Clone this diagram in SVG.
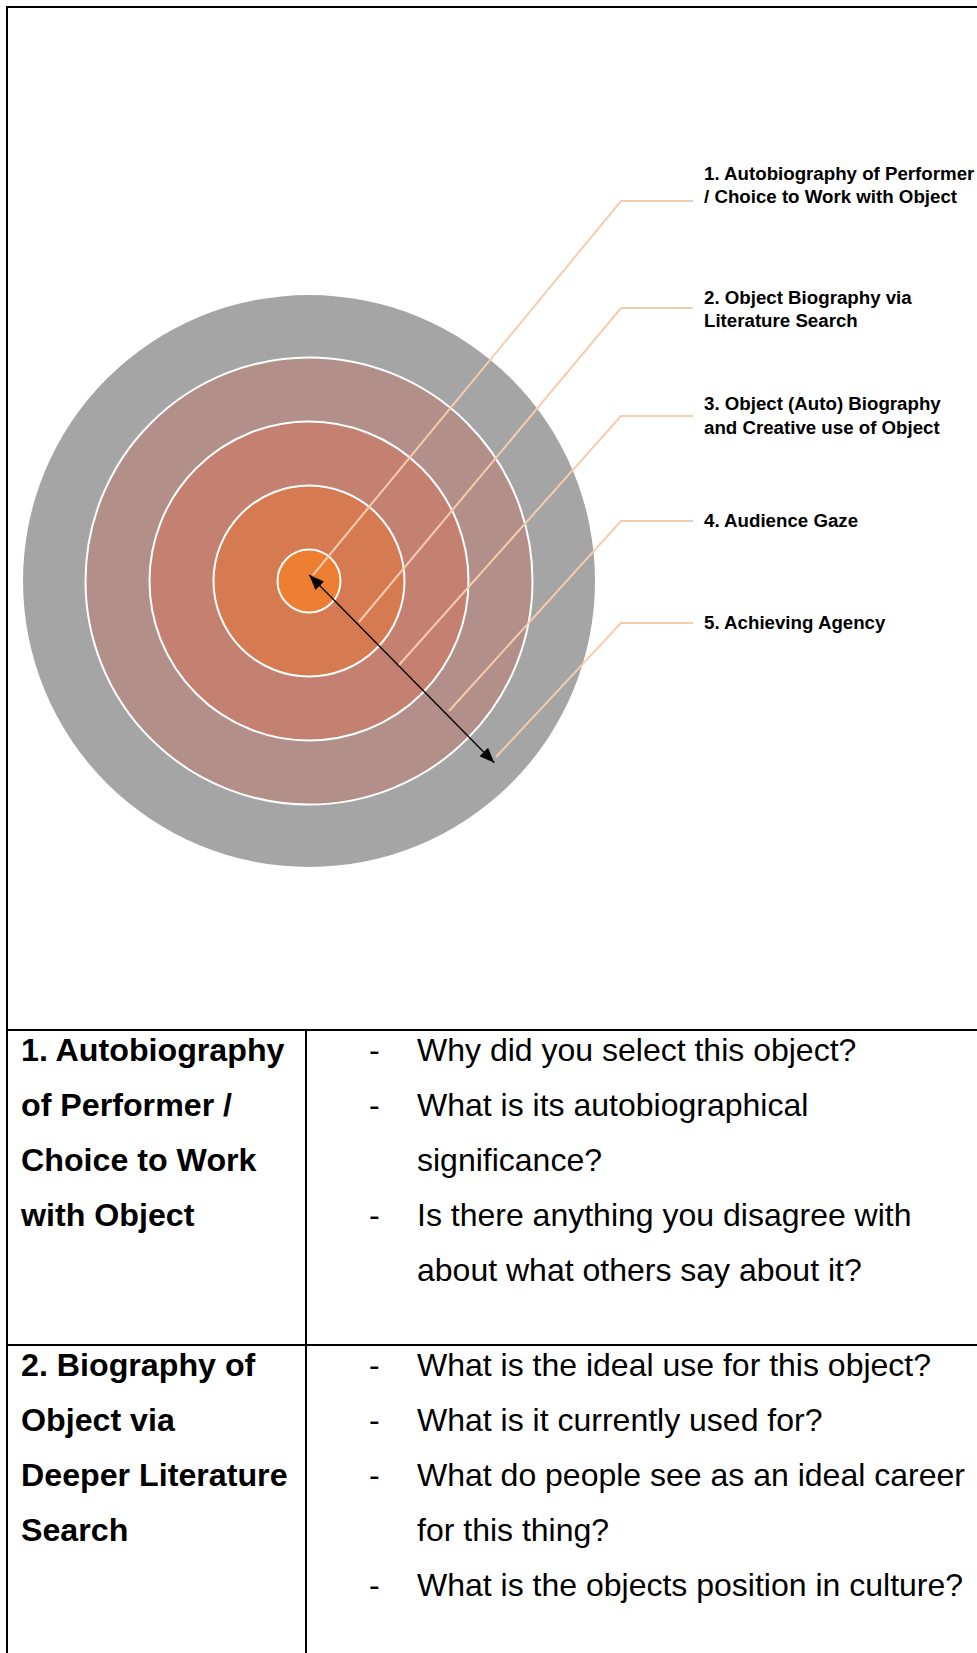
<svg xmlns="http://www.w3.org/2000/svg" width="977" height="1653" viewBox="0 0 977 1653">
  <style>
    .rule { stroke: #000; stroke-width: 2; fill: none; }
    .ring { stroke: #fff; stroke-width: 2; }
    .leader { stroke: #F8CBAD; stroke-width: 2; fill: none; }
    .lbl { font-family: "Liberation Sans", Arial, sans-serif; font-weight: bold; font-size: 18.7px; fill: #000; }
    .head { font-family: "Liberation Sans", Arial, sans-serif; font-weight: bold; font-size: 32.2px; fill: #000; }
    .body { font-family: "Liberation Sans", Arial, sans-serif; font-size: 32px; fill: #000; }
  </style>
  <defs>
    <marker id="tip" viewBox="0 0 15 12" refX="15" refY="6" markerWidth="15" markerHeight="12" markerUnits="userSpaceOnUse" orient="auto-start-reverse">
      <path d="M0,0 L15,6 L0,12 Z" fill="#000"/>
    </marker>
  </defs>

  <rect x="0" y="0" width="977" height="1653" fill="#fff"/>

  <!-- outer frame and table rules -->
  <g id="frame">
    <line class="rule" x1="7" y1="7" x2="977" y2="7"/>
    <line class="rule" x1="7" y1="6" x2="7" y2="1653"/>
    <line class="rule" x1="6" y1="1030" x2="977" y2="1030"/>
    <line class="rule" x1="6" y1="1345" x2="977" y2="1345"/>
    <line class="rule" x1="306" y1="1030" x2="306" y2="1653"/>
  </g>

  <!-- concentric layers -->
  <g id="ring5"><circle cx="309" cy="581" r="286" fill="#A5A5A5"/></g>
  <g id="ring4"><circle class="ring" cx="309" cy="581" r="223.5" fill="#B38F89"/></g>
  <g id="ring3"><circle class="ring" cx="309" cy="581" r="159.5" fill="#C48070"/></g>
  <g id="ring2"><circle class="ring" cx="309" cy="581" r="95.5" fill="#D67A52"/></g>
  <g id="ring1"><circle class="ring" cx="309" cy="581" r="31.5" fill="#ED7D31"/></g>

  <!-- leader lines and span arrow -->
  <g id="connectors">
    <polyline class="leader" points="313,575 621,201 693,201"/>
    <polyline class="leader" points="359,622 621,308 693,308"/>
    <polyline class="leader" points="399,665 621,416 693,416"/>
    <polyline class="leader" points="449,711 621,521 693,521"/>
    <polyline class="leader" points="496,757 621,623 693,623"/>
    <line x1="309.3" y1="575" x2="494.3" y2="762.7" stroke="#000" stroke-width="1.3" marker-start="url(#tip)" marker-end="url(#tip)"/>
  </g>

  <!-- layer labels -->
  <g id="label1">
    <text class="lbl" x="704" y="179.5">1. Autobiography of Performer</text>
    <text class="lbl" x="704" y="203">/ Choice to Work with Object</text>
  </g>
  <g id="label2">
    <text class="lbl" x="704" y="303.5">2. Object Biography via</text>
    <text class="lbl" x="704" y="327">Literature Search</text>
  </g>
  <g id="label3">
    <text class="lbl" x="704" y="410">3. Object (Auto) Biography</text>
    <text class="lbl" x="704" y="434">and Creative use of Object</text>
  </g>
  <g id="label4">
    <text class="lbl" x="704" y="527">4. Audience Gaze</text>
  </g>
  <g id="label5">
    <text class="lbl" x="704" y="629">5. Achieving Agency</text>
  </g>

  <!-- question table, row 1 -->
  <g id="row1">
    <text class="head" x="21" y="1061">1. Autobiography</text>
    <text class="head" x="21" y="1116">of Performer /</text>
    <text class="head" x="21" y="1171">Choice to Work</text>
    <text class="head" x="21" y="1226">with Object</text>

    <text class="body" x="369" y="1061">-</text>
    <text class="body" x="417" y="1061">Why did you select this object?</text>
    <text class="body" x="369" y="1116">-</text>
    <text class="body" x="417" y="1116">What is its autobiographical</text>
    <text class="body" x="417" y="1171">significance?</text>
    <text class="body" x="369" y="1226">-</text>
    <text class="body" x="417" y="1226">Is there anything you disagree with</text>
    <text class="body" x="417" y="1281">about what others say about it?</text>
  </g>

  <!-- question table, row 2 -->
  <g id="row2">
    <text class="head" x="21" y="1376">2. Biography of</text>
    <text class="head" x="21" y="1431">Object via</text>
    <text class="head" x="21" y="1486">Deeper Literature</text>
    <text class="head" x="21" y="1541">Search</text>

    <text class="body" x="369" y="1376">-</text>
    <text class="body" x="417" y="1376">What is the ideal use for this object?</text>
    <text class="body" x="369" y="1431">-</text>
    <text class="body" x="417" y="1431">What is it currently used for?</text>
    <text class="body" x="369" y="1486">-</text>
    <text class="body" x="417" y="1486">What do people see as an ideal career</text>
    <text class="body" x="417" y="1541">for this thing?</text>
    <text class="body" x="369" y="1596">-</text>
    <text class="body" x="417" y="1596">What is the objects position in culture?</text>
  </g>
</svg>
